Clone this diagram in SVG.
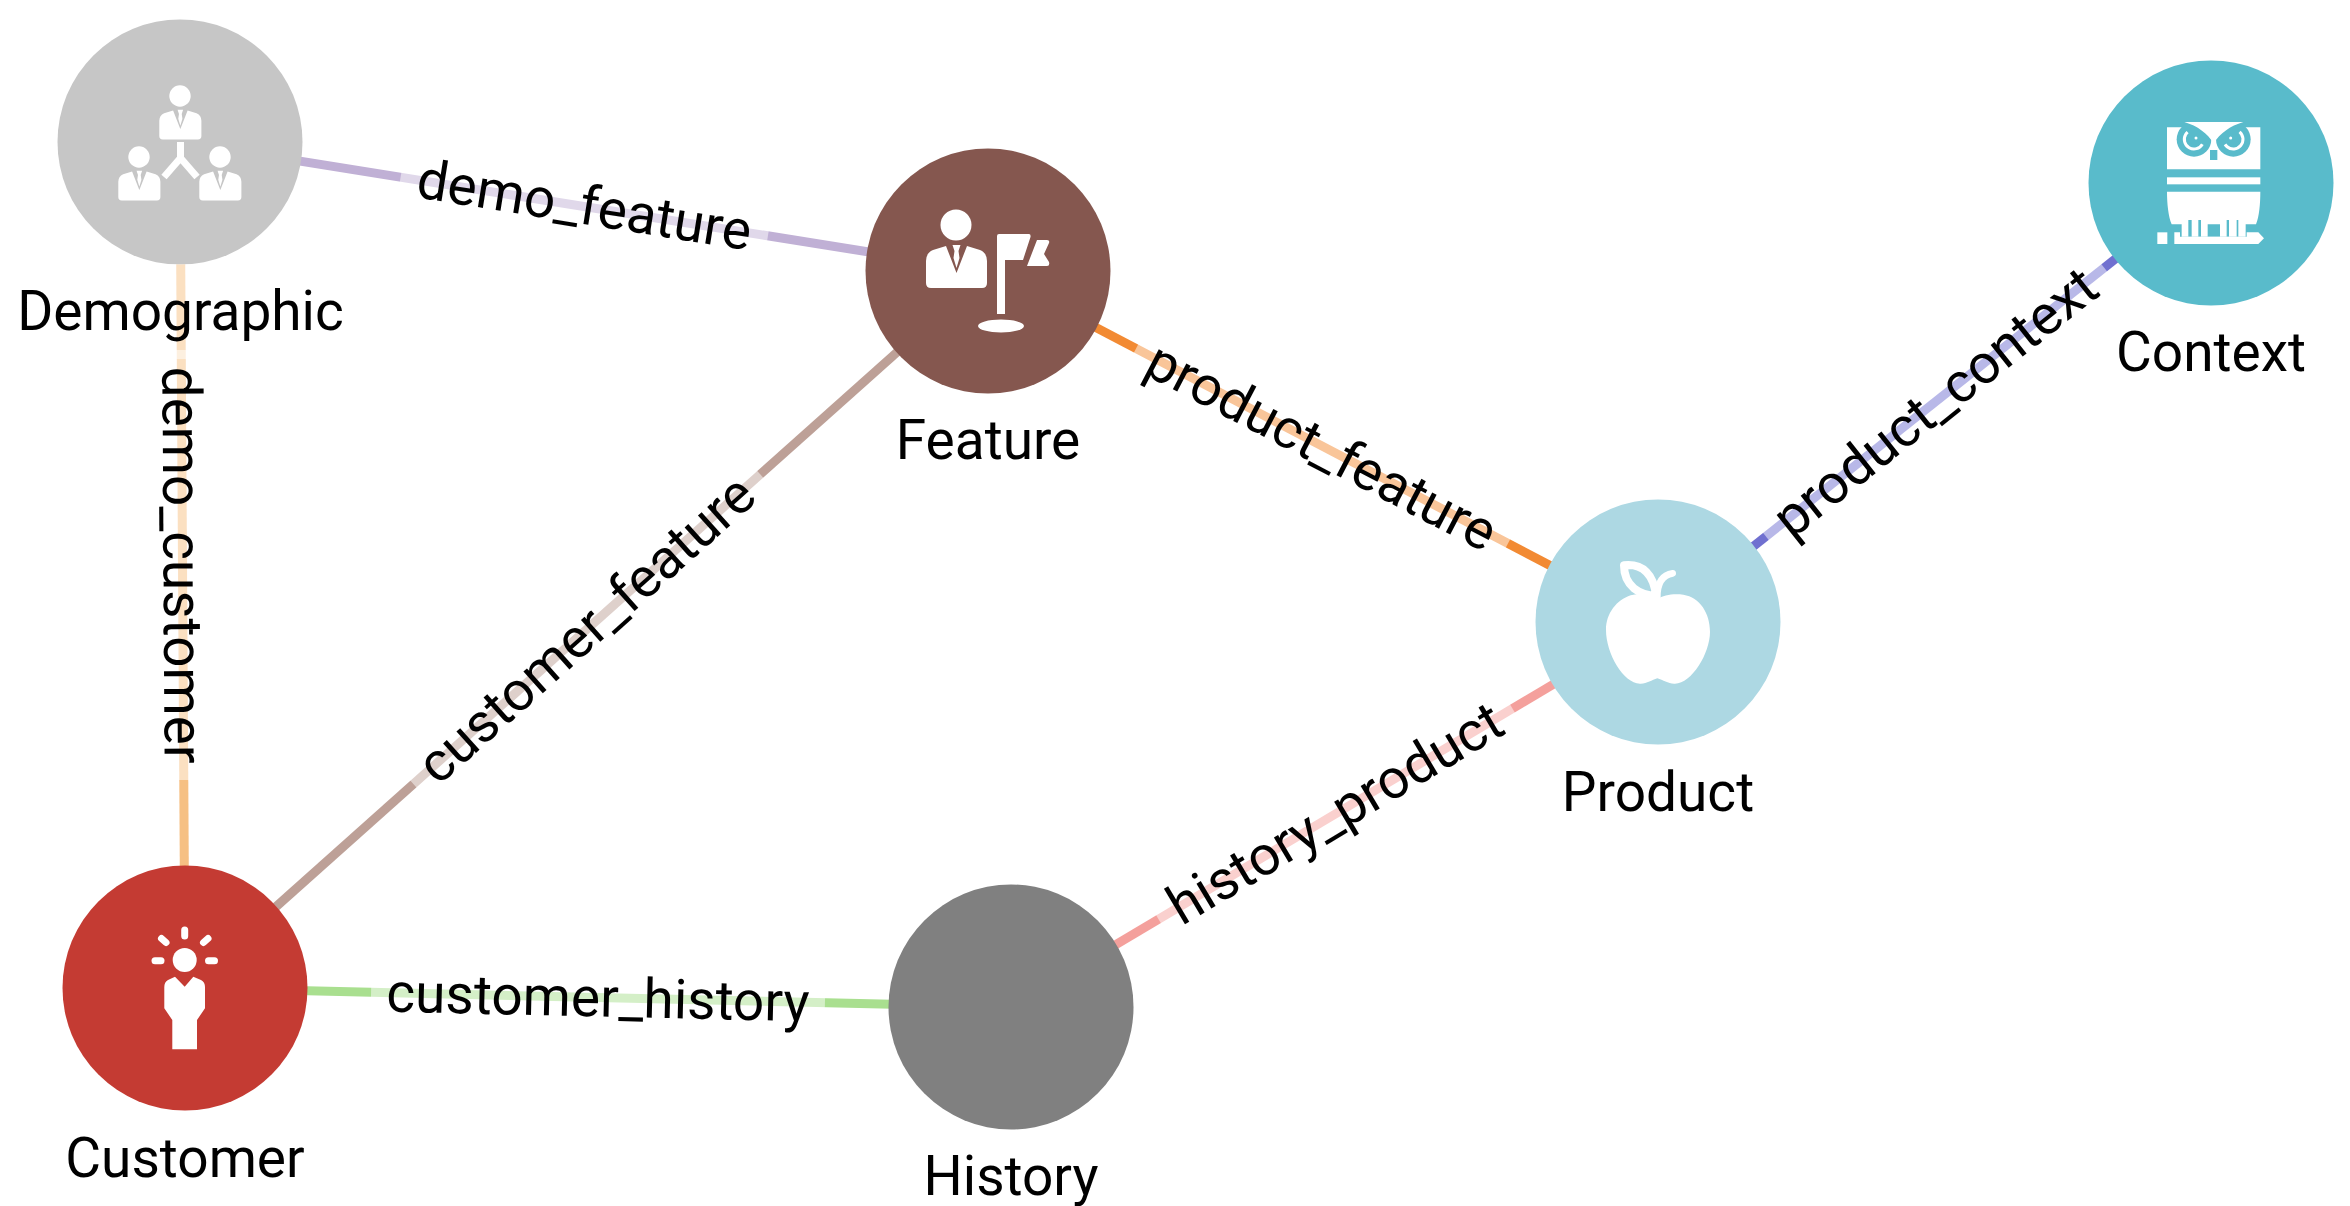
<svg xmlns="http://www.w3.org/2000/svg" xmlns:xlink="http://www.w3.org/1999/xlink" width="2350" height="1206" viewBox="0 0 2350 1206">
<style>
text{font-family:Roboto,"Liberation Sans",sans-serif;fill:#000}
.nl{font-size:55px;text-anchor:middle}
.el{font-size:55px;text-anchor:middle}
.e{stroke-width:9;fill:none}
.bg{fill:#fff;fill-opacity:.5}
.w{fill:#fff}
</style>
<defs>
<g id="person">
<circle cx="0" cy="0" r="15.5" class="w"/>
<path class="w" d="M-10,21 L-23,25 Q-30,28 -30,36 V58 Q-30,63 -25,63 H26 Q31,63 31,58 V36 Q31,28 24,25 L11,21 L0.5,48 Z"/>
<path class="w" d="M-3.5,20 H4.5 L2.5,26 L3.5,33 L0.5,43 L-2.5,33 L-1.5,26 Z"/>
</g>
</defs>
<g id="connectors">
<line class="e" x1="180" y1="142" x2="988" y2="271" stroke="#c0b0d5"/>
<line class="e" x1="180" y1="142" x2="185" y2="988" stroke="#f6c083"/>
<line class="e" x1="185" y1="988" x2="988" y2="271" stroke="#bda097"/>
<line class="e" x1="988" y1="271" x2="1658" y2="622" stroke="#f28a33"/>
<line class="e" x1="1658" y1="622" x2="2211" y2="183" stroke="#7070d0"/>
<line class="e" x1="1011" y1="1007" x2="1658" y2="622" stroke="#f4a09c"/>
<line class="e" x1="185" y1="988" x2="1011" y2="1007" stroke="#a9df8f"/>
<g transform="translate(584.5,205) rotate(9.1)"><rect class="bg" x="-186" y="-32" width="372" height="64"/><text class="el" y="19">demo_feature</text></g>
<g transform="translate(182.500,565) rotate(89.66)"><rect class="bg" x="-215" y="-32" width="430" height="64"/><text class="el" y="19">demo_customer</text></g>
<g transform="translate(586,629) rotate(-41.8)"><rect class="bg" x="-232" y="-32" width="465" height="64"/><text class="el" y="19">customer_feature</text></g>
<g transform="translate(1322,446) rotate(27.65)"><rect class="bg" x="-210" y="-32" width="420" height="64"/><text class="el" y="19">product_feature</text></g>
<g transform="translate(1935,402) rotate(-38.44)"><rect class="bg" x="-216" y="-32" width="432" height="64"/><text class="el" y="19">product_context</text></g>
<g transform="translate(1335,813) rotate(-30.75)"><rect class="bg" x="-206" y="-32" width="412" height="64"/><text class="el" y="19">history_product</text></g>
<g transform="translate(598,997.5) rotate(1.32)"><rect class="bg" x="-227" y="-32" width="454" height="64"/><text class="el" y="19">customer_history</text></g>
</g>
<g id="node-demographic">
<circle cx="180" cy="142" r="122.5" fill="#c6c6c6"/>
<use xlink:href="#person" href="#person" transform="translate(180,96) scale(.69)"/>
<use xlink:href="#person" href="#person" transform="translate(139,157) scale(.69)"/>
<use xlink:href="#person" href="#person" transform="translate(220,157) scale(.69)"/>
<path d="M180.5,142 V158 L164,177 M180.5,158 L197,177" fill="none" stroke="#fff" stroke-width="7"/>
<rect class="bg" x="18" y="264" width="325" height="95"/>
<text class="nl" x="180.500" y="330">Demographic</text>
</g>
<g id="node-feature">
<circle cx="988" cy="271" r="122.5" fill="#85574f"/>
<use xlink:href="#person" href="#person" transform="translate(956,225)"/>
<path class="w" d="M999,234 H1029 Q1031,234 1030.500,237 L1023,260 H1005 V314 H997 V236 Q997,234 999,234 Z"/>
<path class="w" d="M1037,240 H1047 Q1050,240 1049,243 L1044,254 L1049,262 Q1050,266 1047,266 H1027 Z"/>
<ellipse cx="1001" cy="326" rx="23" ry="6.500" class="w"/>
<text class="nl" x="988" y="459">Feature</text>
</g>
<g id="node-product">
<circle cx="1658" cy="622" r="122.500" fill="#add8e3"/>
<g transform="translate(1500,480) scale(.33333)">
<path class="w" d="M392,346 C420,338 455,345 472,357 C490,345 520,340 550,344 C600,352 630,400 630,455 C630,520 575,610 525,611 C505,612 490,600 472,595 C455,600 440,612 420,611 C370,610 318,520 318,450 C318,400 350,360 392,346 Z"/>
<path d="M372,256 C430,250 462,285 468,348 C420,345 372,320 372,256 Z" fill="#add8e3" stroke="#fff" stroke-width="24" stroke-linejoin="round"/>
<path d="M472,350 C472,310 485,285 518,280" fill="none" stroke="#fff" stroke-width="20" stroke-linecap="round"/>
</g>
<text class="nl" x="1658" y="811">Product</text>
</g>
<g id="node-context">
<circle cx="2211" cy="183" r="122.500" fill="#59bbcb"/>
<g transform="translate(2050,40) scale(.33333)">
<path class="w" d="M351,262 H631 V388 H351 Z"/>
<circle cx="432" cy="298" r="52" fill="#59bbcb"/>
<circle cx="550" cy="298" r="52" fill="#59bbcb"/>
<rect x="480" y="330" width="22" height="30" fill="#59bbcb"/>
<path class="w" d="M403,246 H580 C540,258 510,280 491,310 C472,280 443,258 403,246 Z"/>
<circle cx="432" cy="298" r="29" fill="none" stroke="#fff" stroke-width="9" stroke-dasharray="100 90" transform="rotate(30 432 298)"/>
<circle cx="550" cy="298" r="29" fill="none" stroke="#fff" stroke-width="9" stroke-dasharray="100 90" transform="rotate(-50 550 298)"/>
<circle cx="438" cy="294" r="4.500" class="w"/>
<circle cx="542" cy="294" r="4.500" class="w"/>
<rect class="w" x="351" y="412" width="280" height="21"/>
<path class="w" d="M351,455 H631 C631,490 628,530 618,553 H587 V590 H395 V553 H365 C355,530 351,490 351,455 Z"/>
<path fill="#59bbcb" d="M473,553 H510 V590 H473 Z M415,540 H425 V590 H415 Z M445,540 H453 V590 H445 Z M530,540 H537 V590 H530 Z M560,540 H565 V590 H560 Z"/>
<rect class="w" x="322" y="577" width="30" height="35"/>
<path class="w" d="M373,577 H390 V590 H590 V577 H625 L642,595 L625,612 H373 Z"/>
</g>
<text class="nl" x="2211" y="371">Context</text>
</g>
<g id="node-customer">
<circle cx="185" cy="988" r="122.500" fill="#c43b33"/>
<circle cx="184.700" cy="960" r="12" class="w"/>
<g stroke="#fff" stroke-width="7" stroke-linecap="round">
<line x1="184.700" y1="930" x2="184.700" y2="936"/>
<line x1="155" y1="960.700" x2="161" y2="960.700"/>
<line x1="208.500" y1="960.700" x2="214.500" y2="960.700"/>
<line x1="161.500" y1="938.500" x2="166" y2="942.500"/>
<line x1="208" y1="938.500" x2="203.500" y2="942.500"/>
</g>
<path class="w" d="M175,976.700 L184.700,986.700 L193.300,976.700 L201,980 Q205,982 205,987 V1008.300 L197,1020 V1049.300 H172.300 V1020 L164.300,1008.300 V987 Q164.300,982 168,980 Z"/>
<text class="nl" x="185" y="1177">Customer</text>
</g>
<g id="node-history">
<circle cx="1011" cy="1007" r="122.500" fill="#808080"/>
<text class="nl" x="1011" y="1195">History</text>
</g>
</svg>
